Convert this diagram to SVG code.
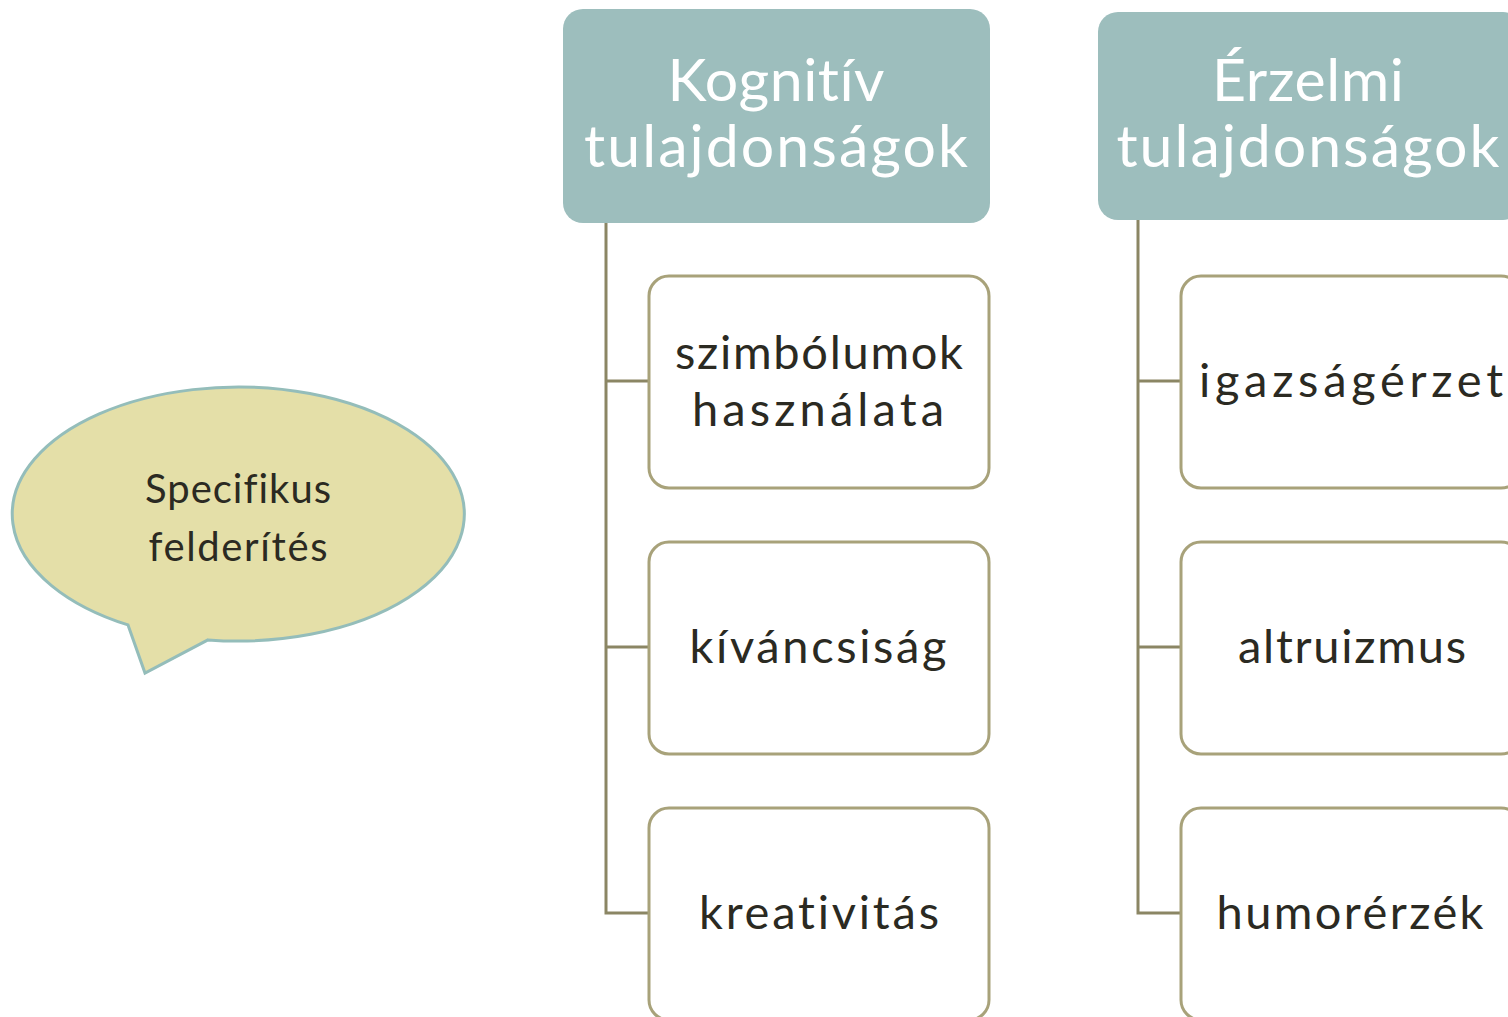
<svg xmlns="http://www.w3.org/2000/svg" width="1508" height="1017" viewBox="0 0 1508 1017">
<style>
text{font-variant-ligatures:none;font-family:Lato,"Open Sans",sans-serif;text-anchor:middle}
.hdr{fill:#9DBEBD}
.hdrt{fill:#FFFFFF;font-size:59px}
.child{fill:#FFFFFF;stroke:#A8A27A;stroke-width:3}
.ct{fill:#2B2A22;font-size:47px}
.conn{fill:none;stroke:#8B8664;stroke-width:3}
.bt{fill:#2B2A22;font-size:40px}
</style>
<rect width="1508" height="1017" fill="#FFFFFF"/>
<g id="connectors">
<path class="conn" d="M606 223 V913 H649 M606 381 H649 M606 647 H649"/>
<path class="conn" d="M1138 220 V913 H1181 M1138 381 H1181 M1138 647 H1181"/>
</g>
<g id="bubble">
<path d="M128 624.9 A226 127 0 1 1 208 639.9 L145 673 Z" fill="#E4DFA8" stroke="#94BDBA" stroke-width="3" stroke-linejoin="miter"/>
<text class="bt" x="238" y="503" textLength="186" lengthAdjust="spacing">Specifikus</text>
<text class="bt" x="238" y="561" textLength="179" lengthAdjust="spacing">felderítés</text>
</g>
<g id="kognitiv">
<rect class="hdr" x="563" y="9" width="427" height="214" rx="20"/>
<text class="hdrt" x="776" y="101" textLength="217" lengthAdjust="spacing">Kognitív</text>
<text class="hdrt" x="776" y="167" textLength="384" lengthAdjust="spacing">tulajdonságok</text>
</g>
<g id="erzelmi">
<rect class="hdr" x="1098" y="12" width="425" height="208" rx="20"/>
<text class="hdrt" x="1308" y="101" textLength="192" lengthAdjust="spacing">Érzelmi</text>
<text class="hdrt" x="1308" y="167" textLength="383" lengthAdjust="spacing">tulajdonságok</text>
</g>
<g id="szimbolumok">
<rect class="child" x="649" y="276" width="340" height="212" rx="20"/>
<text class="ct" x="819" y="369" textLength="288" lengthAdjust="spacing">szimbólumok</text>
<text class="ct" x="818" y="426" textLength="252" lengthAdjust="spacing">használata</text>
</g>
<g id="kivancsisag">
<rect class="child" x="649" y="542" width="340" height="212" rx="20"/>
<text class="ct" x="818" y="663" textLength="257" lengthAdjust="spacing">kíváncsiság</text>
</g>
<g id="kreativitas">
<rect class="child" x="649" y="808" width="340" height="212" rx="20"/>
<text class="ct" x="819" y="929" textLength="240" lengthAdjust="spacing">kreativitás</text>
</g>
<g id="igazsagerzet">
<rect class="child" x="1181" y="276" width="340" height="212" rx="20"/>
<text class="ct" x="1351" y="397" textLength="304" lengthAdjust="spacing">igazságérzet</text>
</g>
<g id="altruizmus">
<rect class="child" x="1181" y="542" width="340" height="212" rx="20"/>
<text class="ct" x="1352" y="663" textLength="228" lengthAdjust="spacing">altruizmus</text>
</g>
<g id="humorerzek">
<rect class="child" x="1181" y="808" width="340" height="212" rx="20"/>
<text class="ct" x="1350" y="929" textLength="267" lengthAdjust="spacing">humorérzék</text>
</g>
</svg>
